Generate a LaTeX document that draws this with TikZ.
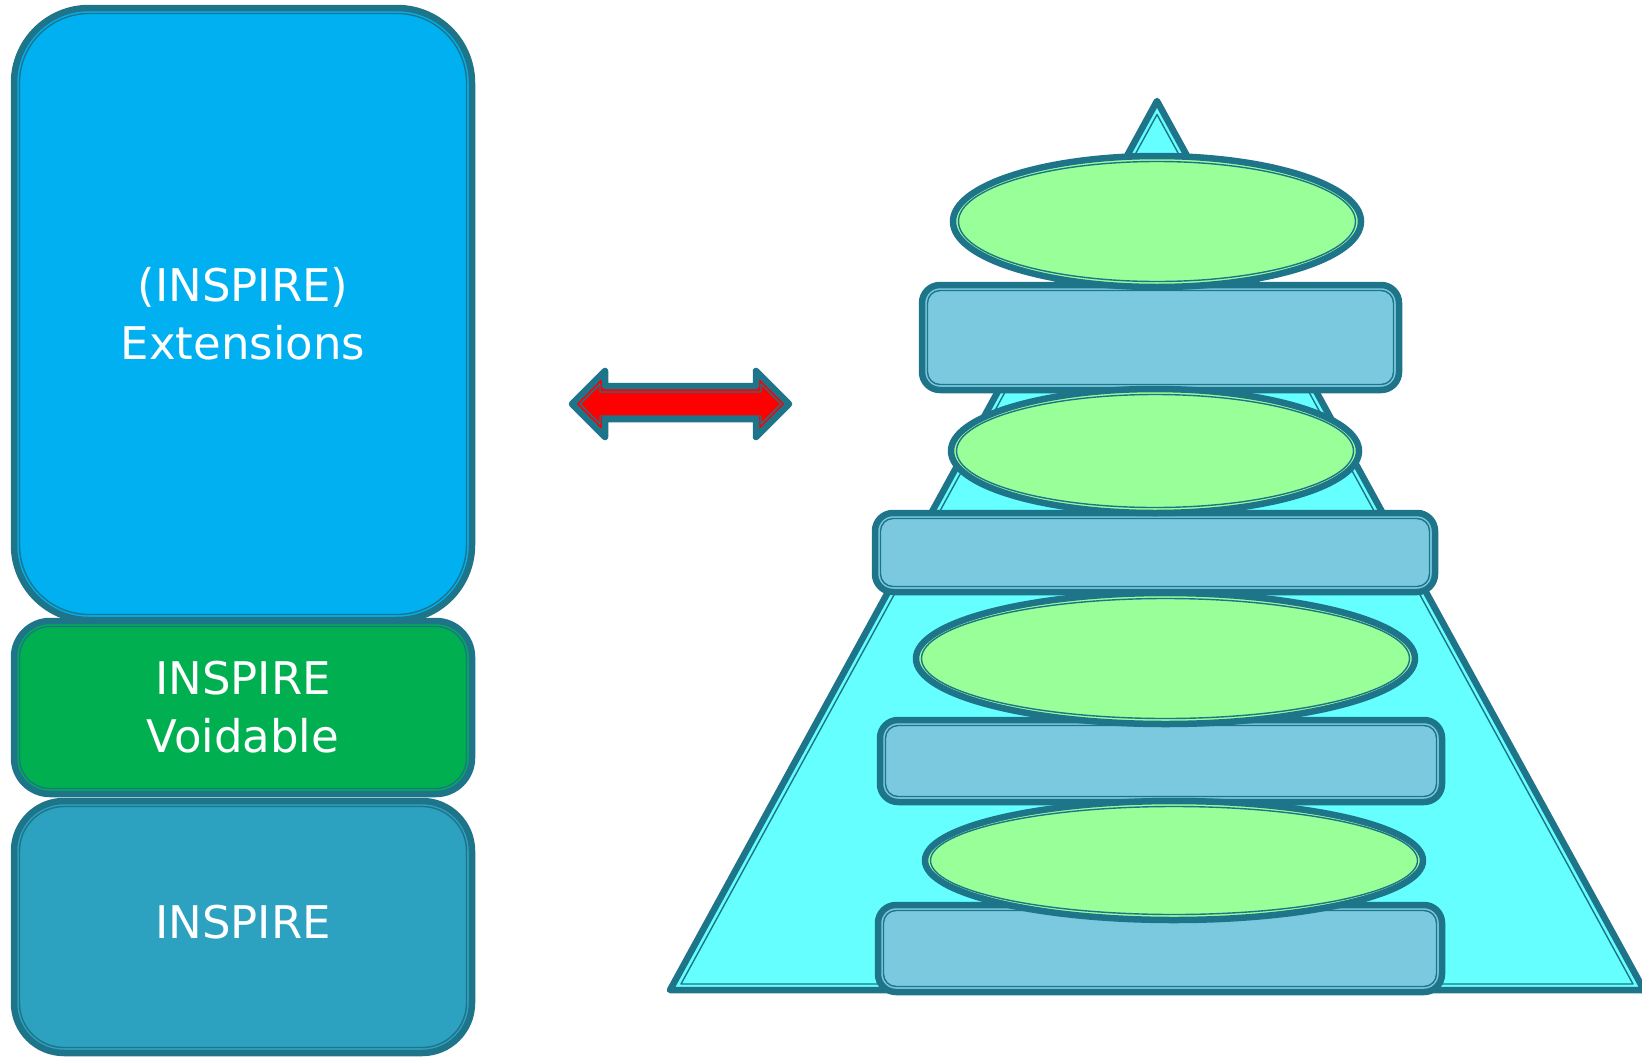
\documentclass[tikz,border=0pt]{standalone}
\usepackage{fontspec}
\setmainfont{DejaVu Sans}
\usetikzlibrary{shapes.geometric,calc}

\definecolor{rimteal}{HTML}{1E7489}
\definecolor{extblue}{HTML}{00B0F0}
\definecolor{voidgreen}{HTML}{00B050}
\definecolor{baseblue}{HTML}{2CA1C0}
\definecolor{pyrcyan}{HTML}{66FFFF}
\definecolor{slabblue}{HTML}{7AC9DF}
\definecolor{blobgreen}{HTML}{99FF99}
\definecolor{linkred}{HTML}{FF0000}

\tikzset{
  rim/.style={draw=rimteal, line width=6.5pt, line join=round},
  innerrim/.style={draw=rimteal, line width=1.4pt, line join=round},
  layer/.style={rim, rounded corners=#1, inner sep=0pt, outer sep=0pt,
    text=white, align=center, font=\fontsize{45}{58}\selectfont,
    path picture={\draw[innerrim, rounded corners=#1-5.5pt]
      ([shift={(5.5pt,-5.5pt)}]path picture bounding box.north west) rectangle
      ([shift={(-5.5pt,5.5pt)}]path picture bounding box.south east);}},
  slab/.style={layer=18pt, fill=slabblue},
  blob/.style={rim, ellipse, fill=blobgreen, inner sep=0pt, outer sep=0pt,
    path picture={\draw[innerrim] let \p1=($(path picture bounding box.north east)-(path picture bounding box.center)$) in
      (path picture bounding box.center) ellipse [x radius=\x1-5.5pt, y radius=\y1-5.5pt];}},
}

\begin{document}
\begin{tikzpicture}[x=1pt, y=-1pt]
	\useasboundingbox (0,0) rectangle (1642,1058);

	\node[layer=75pt, fill=extblue, minimum width=458pt, minimum height=612pt] (ext) at (243,314) {(INSPIRE)\\Extensions};
	\node[layer=36pt, fill=voidgreen, minimum width=458pt, minimum height=173pt] (void) at (243,707.5) {INSPIRE\\Voidable};
	\node[layer=50pt, fill=baseblue, minimum width=458pt, minimum height=252pt, text depth=11pt] (base) at (243,927) {INSPIRE};

	\draw[rim, fill=linkred] (572,404) -- (605,371) -- (605,386) -- (756,386) -- (756,371) -- (789,404) -- (756,437) -- (756,419) -- (605,419) -- (605,437) -- cycle;
	\draw[innerrim] (580,404) -- (600,384) -- (600,392) -- (761,392) -- (761,384) -- (781,404) -- (761,424) -- (761,416) -- (600,416) -- (600,424) -- cycle;

	\draw[rim, fill=pyrcyan] (1157,101) -- (670,990) -- (1644,990) -- cycle;
	\draw[innerrim] (1157,114.5) -- (681,984) -- (1633,984) -- cycle;

	\node[slab, minimum width=477pt, minimum height=105pt] (s1) at (1160.5,337.5) {};
	\node[slab, minimum width=560pt, minimum height=79pt] (s2) at (1155,552.5) {};
	\node[slab, minimum width=562pt, minimum height=82pt] (s3) at (1161,761) {};
	\node[slab, minimum width=564pt, minimum height=87pt] (s4) at (1160,948.5) {};

	\node[blob, minimum width=408pt, minimum height=131pt] (b1) at (1157,221.5) {};
	\node[blob, minimum width=408pt, minimum height=124pt] (b2) at (1155,451) {};
	\node[blob, minimum width=499pt, minimum height=131pt] (b3) at (1165.5,658.5) {};
	\node[blob, minimum width=498pt, minimum height=119pt] (b4) at (1174,860.5) {};
\end{tikzpicture}
\end{document}
